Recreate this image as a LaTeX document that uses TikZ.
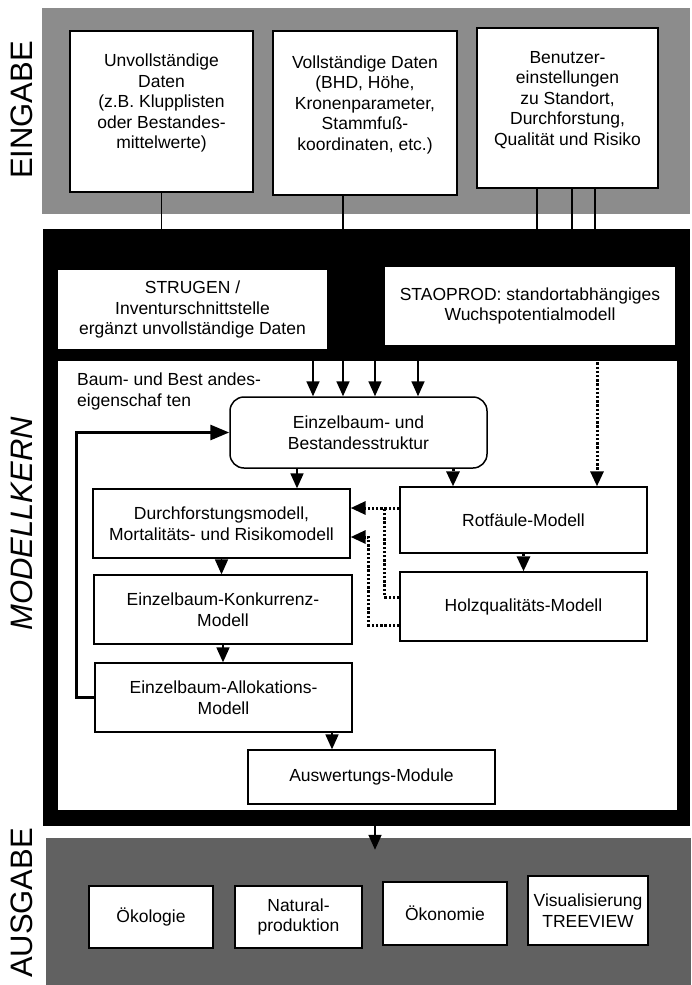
\documentclass[tikz,border=0pt]{standalone}
\usepackage{fontspec}
\setmainfont{Liberation Sans}
\usetikzlibrary{arrows.meta}

\tikzset{
    kasten/.style={draw, line width=1.3pt, fill=white, align=center, inner sep=0pt,
                   font=\fontsize{17.5}{20.5}\selectfont},
    einsatz/.style={kasten, draw=none},
    rund/.style={kasten, line width=1.5pt, rounded corners=14pt},
    flaeche/.style={inner sep=0pt, draw=none},
    titel/.style={rotate=90, inner sep=0pt, font=\fontsize{31}{31}\selectfont},
    pfeil/.style={line width=1.7pt, -{Triangle[length=15pt,width=13pt]}},
    rueck/.style={line width=3pt, -{Triangle[length=19pt,width=15pt]}},
    punkte/.style={line width=3pt, dash pattern=on 2.4pt off 1.8pt, -{Triangle[length=15pt,width=13pt]}},
}

\begin{document}
\begin{tikzpicture}[x=1pt,y=-1pt]
    \useasboundingbox (0,0) rectangle (691,985);
    % Flaechen: Eingabe, Modellkern (schwarzer Rahmen), Ausgabe
    \node[flaeche, fill=black!45, minimum width=648pt, minimum height=206pt] (eingabe) at (366,111) {};
    \node[flaeche, fill=black, minimum width=647pt, minimum height=597pt] (kern) at (366.5,527.5) {};
    \node[flaeche, fill=white, minimum width=619pt, minimum height=449pt] (innen) at (367.5,585.5) {};
    \node[flaeche, fill=black!62, minimum width=645pt, minimum height=147pt] (ausgabe) at (368.5,911.5) {};
    %
    \node[titel] (tEin) at (22,110) {EINGABE};
    \node[titel, font=\fontsize{31}{31}\selectfont\itshape] (tKern) at (22,524) {MODELLKERN};
    \node[titel] (tAus) at (22,903) {AUSGABE};
    %
    % Eingabe-Kaesten: Text etwas oberhalb der Mitte
    \foreach \N/\xa/\ya/\xb/\yb/\T in {
        e1/70/31/253/192/{Unvollständige\\Daten\\(z.B. Klupplisten\\oder Bestandes-\\mittelwerte)},
        e2/273/31/457/195/{Vollständige Daten\\(BHD, Höhe,\\Kronenparameter,\\Stammfuß-\\koordinaten, etc.)},
        e3/477/28/658/188/{Benutzer-\\einstellungen\\zu Standort,\\Durchforstung,\\Qualität und Risiko}}
        {
        \node[kasten, text depth=20pt, minimum width={(\xb-\xa)*1pt}, minimum height={(\yb-\ya)*1pt}] (\N)
            at ({(\xa+\xb)/2},{(\ya+\yb)/2}) {\T};
        }
    % Kaesten: name / links / oben / rechts / unten / text
    \foreach \N/\xa/\ya/\xb/\yb/\T in {
        durch/93/489/350/558/{Durchforstungsmodell,\\Mortalitäts- und Risikomodell},
        konk/94/575/352/644/{Einzelbaum-Konkurrenz-\\Modell},
        allok/95/663/352/732/{Einzelbaum-Allokations-\\Modell},
        rotf/400/487/647/553/{Rotfäule-Modell},
        holz/400/572/647/641/{Holzqualitäts-Modell},
        ausw/248/750/495/804/{Auswertungs-Module},
        oeko/89/886/213/948/{Ökologie},
        natur/235/886/362/948/{Natural-\\produktion},
        oekon/383/882/507/945/{Ökonomie},
        visu/528/876/648/945/{Visualisierung\\TREEVIEW}}
        {
        \node[kasten, minimum width={(\xb-\xa)*1pt}, minimum height={(\yb-\ya)*1pt}] (\N)
            at ({(\xa+\xb)/2},{(\ya+\yb)/2}) {\T};
        }
    \node[einsatz, minimum width=269pt, minimum height=79pt] (strugen) at (192.5,309.5)
        {STRUGEN /\\Inventurschnittstelle\\ergänzt unvollständige Daten};
    \node[einsatz, minimum width=290pt, minimum height=78pt] (staoprod) at (530,306)
        {STAOPROD: standortabhängiges\\Wuchspotentialmodell};
    \node[rund, minimum width=257pt, minimum height=71pt] (struktur) at (358.5,432.5)
        {Einzelbaum- und\\Bestandesstruktur};
    \node[anchor=north west, align=left, inner sep=0pt, font=\fontsize{17.5}{20.5}\selectfont]
        (eigensch) at (77,373) {Baum- und Best andes-\\eigenschaf ten};
    %
    % Eingabe -> Modellkern
    \coordinate (knick) at (375,250);
    \draw[pfeil] (e1.south) -- (e1.south |- strugen.north);
    \draw[pfeil] ([xshift=-22pt]e2.south) -- ([xshift=-22pt]e2.south |- struktur.north);
    \draw[pfeil] ([xshift=-30.5pt]e3.south) |- (knick) -- (knick |- struktur.north);
    \draw[pfeil] ([xshift=4.5pt]e3.south) -- ([xshift=4.5pt]e3.south |- staoprod.north);
    \draw[pfeil] ([xshift=27.5pt]e3.south) -- ([xshift=27.5pt]e3.south |- staoprod.north);
    %
    % innerhalb des Modellkerns
    \draw[pfeil] ([xshift=-45.5pt]struktur.north |- strugen.south) -- ([xshift=-45.5pt]struktur.north);
    \draw[pfeil] ([xshift=59.5pt]struktur.north |- staoprod.south) -- ([xshift=59.5pt]struktur.north);
    \draw[punkte] ([xshift=73.5pt]rotf.north |- staoprod.south) -- ([xshift=73.5pt]rotf.north);
    \draw[pfeil] ([xshift=75.5pt]durch.north |- struktur.south) -- ([xshift=75.5pt]durch.north);
    \draw[punkte] ([xshift=-70.5pt]rotf.north |- struktur.south) -- ([xshift=-70.5pt]rotf.north);
    \draw[pfeil] (durch.south) -- (durch.south |- konk.north);
    \draw[pfeil] (konk.south) -- (konk.south |- allok.north);
    \draw[pfeil] ([xshift=-39.5pt]ausw.north |- allok.south) -- ([xshift=-39.5pt]ausw.north);
    \draw[punkte] (rotf.south) -- (holz.north);
    \draw[punkte] ([yshift=12pt]rotf.west) -- ([yshift=12pt]rotf.west -| durch.east);
    \draw[punkte, -] ([yshift=9.5pt]holz.west) -| ([xshift=-15pt,yshift=12pt]rotf.west);
    \draw[punkte] ([yshift=-18.5pt]holz.west) -| ([xshift=18pt,yshift=-13.5pt]durch.east)
        -- ([yshift=-13.5pt]durch.east);
    \draw[rueck] (allok.west) -- ++(-18,0) |- (struktur.west);
    %
    % Modellkern -> Ausgabe
    \draw[pfeil, shorten >=-12pt] ([xshift=8.5pt]kern.south) -- ([xshift=8.5pt]kern.south |- ausgabe.north);
\end{tikzpicture}
\end{document}
